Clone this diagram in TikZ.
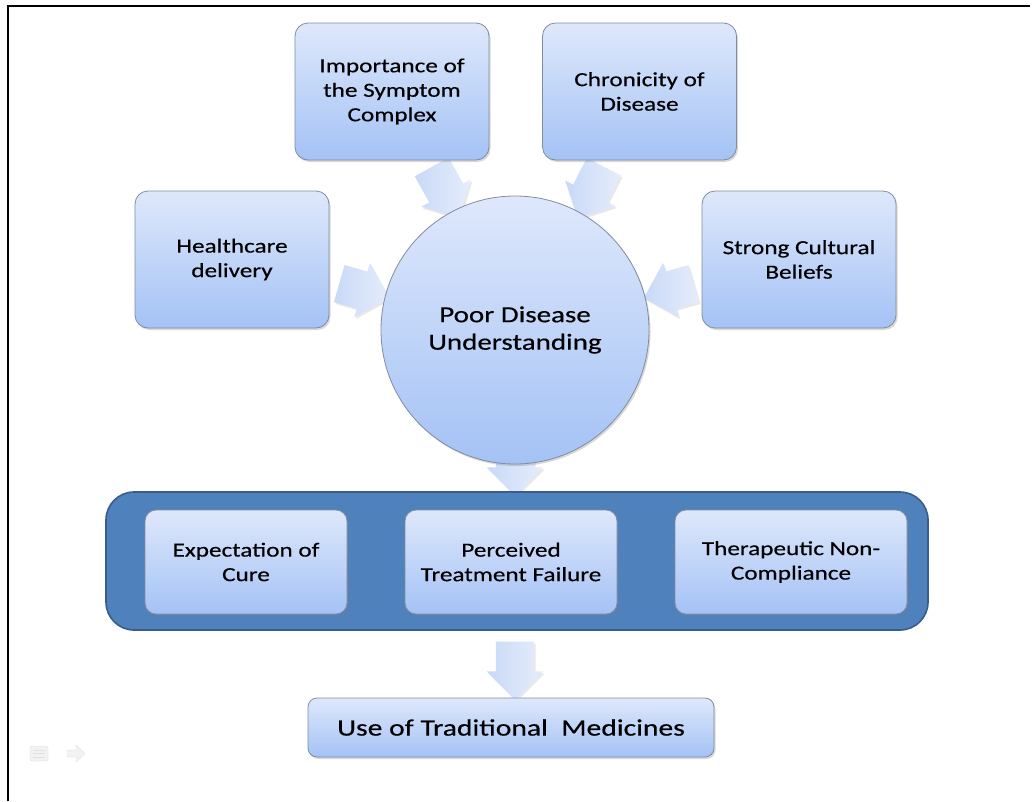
\documentclass[tikz,border=0pt]{standalone}
\usepackage{fontspec}
\setmainfont{Carlito}[FakeStretch=1.26,FakeBold=0.4]
\usetikzlibrary{shapes.arrows,shadows}
\definecolor{boxtop}{RGB}{222,232,251}
\definecolor{boxbot}{RGB}{164,194,245}
\definecolor{boxline}{RGB}{130,140,160}
\definecolor{grpfill}{RGB}{79,129,189}
\definecolor{grpline}{RGB}{56,93,138}
\definecolor{arrbase}{RGB}{200,217,247}
\definecolor{arrtip}{RGB}{230,237,251}
\definecolor{iconfill}{RGB}{242,242,242}
\definecolor{iconline}{RGB}{225,225,225}

\begin{document}
\begin{tikzpicture}[x=1pt,y=-1pt,
  softshadow/.style={drop shadow={opacity=0.3, shadow xshift=1.5pt, shadow yshift=-2pt}},
  factor/.style={draw=boxline, line width=0.8pt, rounded corners=13pt,
    top color=boxtop, bottom color=boxbot, softshadow, align=center,
    font=\fontsize{20}{24.5}\selectfont, inner sep=0pt,
    minimum width=194pt, minimum height=137pt},
  effect/.style={factor, minimum height=104pt, rounded corners=11pt},
  hub/.style={circle, draw=boxline, line width=0.8pt, top color=boxtop,
    bottom color=boxbot, softshadow, align=center, inner sep=0pt,
    minimum size=268pt, font=\fontsize{23}{27.5}\selectfont},
  group/.style={draw=grpline, line width=1.6pt, fill=grpfill, rounded corners=28pt,
    inner sep=0pt, minimum width=822pt, minimum height=138pt},
  outcome/.style={factor, minimum width=406pt, minimum height=59pt,
    rounded corners=9pt, font=\fontsize{23.5}{28}\selectfont},
  blockarrow/.style={single arrow, draw=none, left color=arrbase, right color=arrtip,
    inner xsep=0pt, inner ysep=19pt, single arrow head extend=9pt,
    drop shadow={opacity=0.18, shadow xshift=1.5pt, shadow yshift=-2pt}},
]
\useasboundingbox (0,0) rectangle (1032,801);
\fill[white] (0,0) rectangle (1032,801);

% slide frame
\draw[line width=2pt] (8,801) -- (8,6) -- (1030,6);

% block arrows towards the hub and down the chain (drawn first, the boxes sit on top)
\node[blockarrow, minimum height=58pt, rotate=-61]  (a1) at (441,184) {};
\node[blockarrow, minimum height=58pt, rotate=-117] (a2) at (595,184) {};
\node[blockarrow, minimum height=52pt, rotate=-16]  (a3) at (355,288) {};
\node[blockarrow, minimum height=52pt, rotate=-164] (a4) at (678,288) {};
\node[blockarrow, minimum height=50pt, rotate=-90]  (a5) at (515,461) {};
\node[blockarrow, minimum height=58pt, rotate=-90]  (a6) at (515,661) {};

% influencing factors
\node[factor] (imp) at (392,91.5) {Importance of\\the Symptom\\Complex};
\node[factor] (chr) at (639.5,91.5) {Chronicity of\\Disease};
\node[factor] (hc)  at (232,259.5) {Healthcare\\delivery};
\node[factor] (scb) at (799,259.5) {Strong Cultural\\Beliefs};

% central concept
\node[hub] (pd) at (515,330) {Poor Disease\\Understanding};

% grouped consequences
\node[group] (grp) at (517,561) {};
\node[effect, minimum width=202pt] (exp) at (246,562) {Expectation of\\Cure};
\node[effect, minimum width=212pt] (ptf) at (511,562) {Perceived\\Treatment Failure};
\node[effect, minimum width=232pt] (tnc) at (791,562) {Therapeutic Non-\\Compliance};

% final outcome
\node[outcome] (utm) at (511,727.5) {Use of Traditional\ \ Medicines};

% slideshow controls
\draw[iconline, fill=iconfill, rounded corners=1.5pt] (30,746) rectangle (48,761);
\draw[iconline, line width=1pt] (33,750) -- (45,750) (33,753.5) -- (45,753.5) (33,757) -- (45,757);
\draw[iconline, fill=iconfill, line join=round]
  (67,750) -- (76,750) -- (76,745) -- (85,753.5) -- (76,762) -- (76,757) -- (67,757) -- cycle;
\end{tikzpicture}
\end{document}
